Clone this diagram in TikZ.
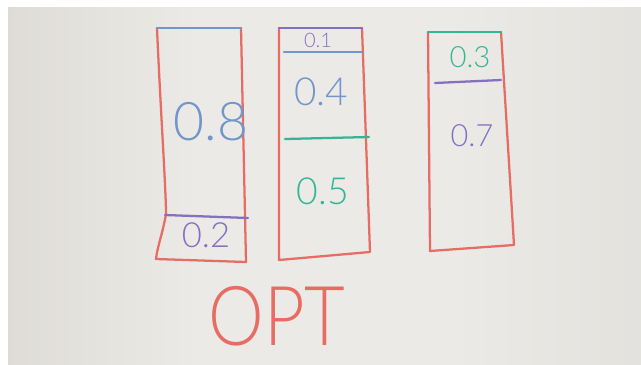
\documentclass[tikz,border=0pt]{standalone}
\usepackage{fontspec}
\newfontfamily\hand{Lato Light}
\definecolor{boardl}{RGB}{200,197,191}
\definecolor{boardm}{RGB}{236,234,230}
\definecolor{boardr}{RGB}{214,212,207}
\definecolor{mred}{RGB}{230,108,100}
\definecolor{mblue}{RGB}{112,150,204}
\definecolor{mpurple}{RGB}{132,112,192}
\definecolor{mteal}{RGB}{52,182,150}
\pgfdeclarehorizontalshading{boardh}{100bp}{color(0bp)=(boardl); color(40bp)=(boardm); color(60bp)=(boardm); color(100bp)=(boardr)}
\begin{document}
\begin{tikzpicture}[x=0.75pt,y=-0.75pt,
  pen/.style={line width=1.7pt,line cap=round,line join=round},
  lab/.style={inner sep=0pt,font=\hand},
]
\useasboundingbox (0,0) rectangle (641,364);
\fill[white] (0,0) rectangle (641,364);
\shade[shading=boardh] (8,7) rectangle (641,364);
% box 1
\draw[pen,mred] (157,28) .. controls (160,100) and (166,190) .. (166,214) .. controls (163,232) and (157,248) .. (156,259) -- (246,262) -- (241,28);
\draw[pen,mblue] (157,28) -- (241,28);
\draw[pen,mpurple] (165,215) -- (248,218);
\node[lab,mblue,font=\hand\fontsize{40}{40}\selectfont] (a08) at (211,122) {0.8};
\node[lab,mpurple,font=\hand\fontsize{26}{26}\selectfont] (a02) at (206,235) {0.2};
% box 2
\draw[pen,mred] (279,28) -- (279,260) -- (370,252) -- (362,28);
\draw[pen,mpurple] (279,28) -- (362,28);
\draw[pen,mblue] (284,52) -- (362,52);
\draw[pen,mteal] (285,139) -- (369,137);
\node[lab,mpurple,font=\hand\fontsize{15}{15}\selectfont] (b01) at (318,40) {0.1};
\node[lab,mblue,font=\hand\fontsize{29}{29}\selectfont] (b04) at (321,92) {0.4};
\node[lab,mteal,font=\hand\fontsize{28}{28}\selectfont] (b05) at (323,191) {0.5};
% box 3
\draw[pen,mred] (428,32) -- (430,251) -- (514,245) -- (501,32);
\draw[pen,mteal] (428,32) -- (501,32);
\draw[pen,mpurple] (435,83) -- (501,80);
\node[lab,mteal,font=\hand\fontsize{22}{22}\selectfont] (c03) at (470,57) {0.3};
\node[lab,mpurple,font=\hand\fontsize{23}{23}\selectfont] (c07) at (472,136) {0.7};
% title
\node[lab,mred,font=\hand\fontsize{62}{62}\selectfont,xscale=0.85] (opt) at (277,316) {OPT};
\end{tikzpicture}
\end{document}
